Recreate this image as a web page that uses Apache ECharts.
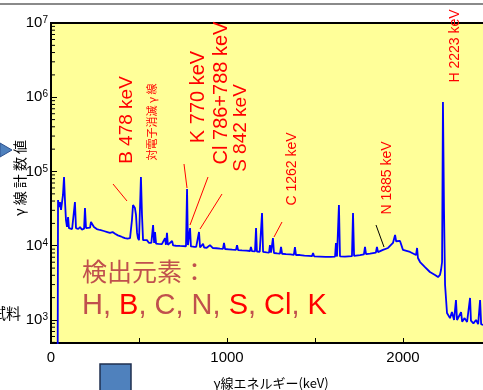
<!DOCTYPE html>
<html>
<head>
<meta charset="utf-8">
<title>γ線スペクトル</title>
<script src="https://cdn.jsdelivr.net/npm/echarts@6/dist/echarts.min.js"></script>
<style>
  html, body { margin: 0; padding: 0; background: #fff; }
  #main { width: 483px; height: 390px; }
</style>
</head>
<body>
<div id="main"></div>
<script>
// γ線エネルギー (keV)
const energyKeV = [
  38, 40, 45, 51, 57, 62, 68, 74, 80, 85,
  91, 97, 102, 112, 120, 131, 136, 142, 155, 165,
  175, 183, 188, 193, 199, 210, 222, 227, 244, 260,
  278, 300, 320, 335, 350, 364, 380, 392, 405, 420,
  435, 449, 455, 460, 466, 472, 477, 483, 489, 494,
  500, 506, 511, 517, 523, 534, 545, 557, 570, 580,
  586, 591, 597, 610, 619, 630, 648, 653, 659, 664,
  675, 688, 694, 710, 733, 750, 767, 773, 778, 784,
  790, 795, 810, 825, 835, 841, 847, 858, 864, 870,
  885, 903, 920, 940, 960, 977, 983, 989, 1010, 1030,
  1051, 1057, 1063, 1085, 1110, 1131, 1136, 1142, 1159, 1165,
  1170, 1186, 1193, 1199, 1205, 1225, 1239, 1244, 1250, 1256,
  1261, 1267, 1285, 1301, 1307, 1313, 1335, 1360, 1380, 1386,
  1392, 1415, 1440, 1465, 1483, 1489, 1495, 1528, 1560, 1590,
  1614, 1619, 1625, 1631, 1636, 1642, 1670, 1690, 1710, 1716,
  1722, 1756, 1778, 1784, 1790, 1813, 1846, 1852, 1858, 1869,
  1886, 1915, 1943, 1955, 1961, 1972, 1983, 1989, 1995, 2000,
  2020, 2040, 2060, 2074, 2080, 2085, 2097, 2125, 2153, 2182,
  2199, 2210, 2216, 2222, 2227, 2233, 2239, 2250, 2267, 2278,
  2290, 2301, 2307, 2330, 2336, 2350, 2364, 2381, 2386, 2400,
  2415, 2427, 2438, 2444, 2455
];
// γ線計数値
const counts = [
  300, 41300, 33200, 38800, 30300, 37600, 48300, 84300, 37600, 22200,
  17900, 24400, 17300, 17900, 16800, 17300, 38800, 17300, 16800, 17900,
  16500, 17300, 17000, 32200, 17300, 16800, 17600, 20900, 17900, 16800,
  16300, 15800, 15300, 14900, 15300, 14500, 13800, 13500, 13100, 12700,
  12500, 12700, 12700, 22200, 35400, 36500, 32200, 26000, 14900, 12700,
  11900, 12000, 84300, 26000, 11900, 11200, 11900, 10900, 10900, 19000,
  10900, 15300, 10700, 10600, 10200, 10500, 12700, 10300, 14900, 10300,
  10200, 11600, 10100, 10000, 9930, 9900, 9850, 58100, 10200, 9800,
  17300, 9800, 9700, 9650, 9600, 15300, 9480, 9500, 10600, 9450,
  9400, 10200, 9300, 9250, 9150, 9100, 10900, 9040, 8950, 8850,
  8800, 10200, 8750, 8650, 8600, 8500, 9620, 8450, 8400, 17300,
  8350, 8300, 8300, 27600, 8250, 8150, 8100, 10200, 8050, 8000,
  12700, 7990, 7900, 7850, 9620, 7800, 7700, 7650, 7550, 9620,
  7500, 7500, 7350, 7300, 7250, 7990, 7200, 7150, 7100, 7100,
  7150, 10900, 7150, 7150, 35400, 7200, 7150, 7200, 7250, 27600,
  7300, 7500, 7650, 9620, 7700, 7850, 8100, 9620, 8200, 8500,
  8800, 9330, 10900, 14000, 11500, 11900, 11600, 12300, 9500, 8770,
  8500, 8240, 7800, 7500, 9330, 6840, 6040, 5170, 4430, 4040,
  3790, 4040, 4710, 6040, 863000, 30000, 2960, 1240, 1060, 1280,
  1000, 1860, 1000, 1280, 950, 1060, 940, 1980, 980, 900,
  1000, 880, 1860, 880, 857
];
// 対数軸の目盛り (10のべき と 2..9 の細目盛り)
const decades = [100, 1000, 10000, 100000, 1000000];
const mantissas = [2, 3, 4, 5, 6, 7, 8, 9];
const yMin = 490, yMax = 1e7;

// ピーク注記
const peakLabels = ['B 478 keV', '対電子消滅 γ 線', 'K 770 keV', 'Cl 786+788 keV', 'S 842 keV',
  'C 1262 keV', 'N 1885 keV', 'H 2223 keV'];
const elementTitle = '検出元素：';
const yName = 'γ 線 計 数 値';

const spectrum = energyKeV.map((e, i) => [e, counts[i]]);
const minorTicks = [];
decades.forEach(d => {
  mantissas.forEach(m => {
    const v = d * m;
    if (v >= yMin && v <= yMax) minorTicks.push([0, v]);
  });
});

const red = '#ff0000';
const brown = '#c0504d';
const latin = '"Liberation Sans", Arial, sans-serif';
const narrow = '"Liberation Sans Narrow", "Arial Narrow", "Liberation Sans", sans-serif';
const jp = '"Noto Sans CJK JP", sans-serif';

// 縦書き(90度回転)の注記
function vText(text, x, y, size, font, color) {
  return {
    type: 'text', x: x, y: y, rotation: Math.PI / 2, z: 100,
    style: { text: text, fill: color || red, font: size + 'px ' + (font || latin), align: 'center', verticalAlign: 'middle' }
  };
}
function pointer(x1, y1, x2, y2, color) {
  return {
    type: 'line', z: 100,
    shape: { x1: x1, y1: y1, x2: x2, y2: y2 },
    style: { stroke: color || red, lineWidth: 1 }
  };
}

const myChart = echarts.init(document.getElementById('main'));
const option = {
  animation: false,
  backgroundColor: '#fff',
  grid: {
    left: 51, top: 23, width: 440, height: 320,
    outerBoundsMode: 'none',
    show: true, backgroundColor: '#ffff99', borderColor: '#000', borderWidth: 2
  },
  xAxis: {
    type: 'value', min: 0, max: 2500, interval: 500,
    name: 'γ線エネルギー(keV)', nameLocation: 'middle', nameGap: 34,
    nameTextStyle: { fontSize: 13, color: '#000', fontFamily: jp },
    axisLine: { lineStyle: { color: '#000', width: 2 } },
    axisTick: { inside: true, length: 5, lineStyle: { color: '#000' } },
    axisLabel: {
      formatter: v => (v % 1000 === 0 ? String(v) : ''),
      fontSize: 15, fontFamily: narrow, color: '#000', margin: 7
    },
    splitLine: { show: false }
  },
  yAxis: {
    type: 'log', logBase: 10, min: yMin, max: yMax,
    axisLine: { show: true, lineStyle: { color: '#000', width: 2 } },
    axisTick: { inside: true, length: 6, lineStyle: { color: '#000' } },
    axisLabel: {
      margin: 3,
      formatter: function (v) {
        const e = Math.log10(v);
        if (Math.abs(e - Math.round(e)) > 1e-6) return '';
        return '{b|10}{s|' + Math.round(e) + '}';
      },
      rich: {
        b: { fontSize: 15, fontFamily: narrow, color: '#000' },
        s: { fontSize: 10, fontFamily: narrow, color: '#000', verticalAlign: 'top' }
      }
    },
    splitLine: { show: false }
  },
  series: [
    {
      type: 'line', data: spectrum, showSymbol: false, clip: true,
      lineStyle: { color: '#0000ff', width: 1.8 }
    },
    {
      // 対数軸の細目盛り
      type: 'custom', data: minorTicks, silent: true,
      renderItem: function (params, api) {
        const p = api.coord([0, api.value(1)]);
        return {
          type: 'line',
          shape: { x1: p[0], y1: p[1], x2: p[0] + 4, y2: p[1] },
          style: { stroke: '#000', lineWidth: 1 }
        };
      }
    }
  ],
  graphic: [
    { type: 'line', shape: { x1: 0, y1: 4, x2: 483, y2: 4 }, style: { stroke: '#8a8a8a', lineWidth: 2 } },
    { type: 'polygon', shape: { points: [[0, 143], [12, 150], [0, 157]] }, style: { fill: '#4f81bd', stroke: '#2f528f', lineWidth: 1 } },
    { type: 'rect', shape: { x: 100, y: 364, width: 31, height: 30 }, style: { fill: '#4f81bd', stroke: '#1f2f4f', lineWidth: 1.5 } },
    { type: 'text', x: 21, y: 313, style: { text: '試料', fill: '#000', font: '15px ' + jp, align: 'right', verticalAlign: 'middle' } },
    vText(yName, 20, 178, 14, jp, '#000'),

    vText(peakLabels[0], 127, 120, 19),
    vText(peakLabels[1], 152, 122, 11, jp),
    vText(peakLabels[2], 198, 97, 20),
    vText(peakLabels[3], 221, 93, 20),
    vText(peakLabels[4], 241, 128, 19),
    vText(peakLabels[5], 292, 169, 14),
    vText(peakLabels[6], 387, 178, 14),
    vText(peakLabels[7], 455, 46, 14),

    pointer(113, 184, 127, 201),
    pointer(184, 164, 187, 188),
    pointer(208, 177, 190, 225),
    pointer(222, 194, 200, 229),
    pointer(282, 222, 274, 237),
    pointer(376, 225, 384, 247, '#000'),

    {
      type: 'text', x: 82, y: 271, z: 100,
      style: { text: elementTitle, fill: brown, font: '25px ' + jp, align: 'left', verticalAlign: 'middle' }
    },
    {
      type: 'text', x: 82, y: 306, z: 100,
      style: {
        text: '{n|H, }{r|B}{n|, C, N, }{r|S}{n|, }{r|Cl}{n|, }{r|K}',
        align: 'left', verticalAlign: 'middle',
        rich: {
          n: { fill: brown, fontSize: 29, fontFamily: latin },
          r: { fill: red, fontSize: 29, fontFamily: latin }
        }
      }
    }
  ]
};
myChart.setOption(option);
</script>
</body>
</html>
